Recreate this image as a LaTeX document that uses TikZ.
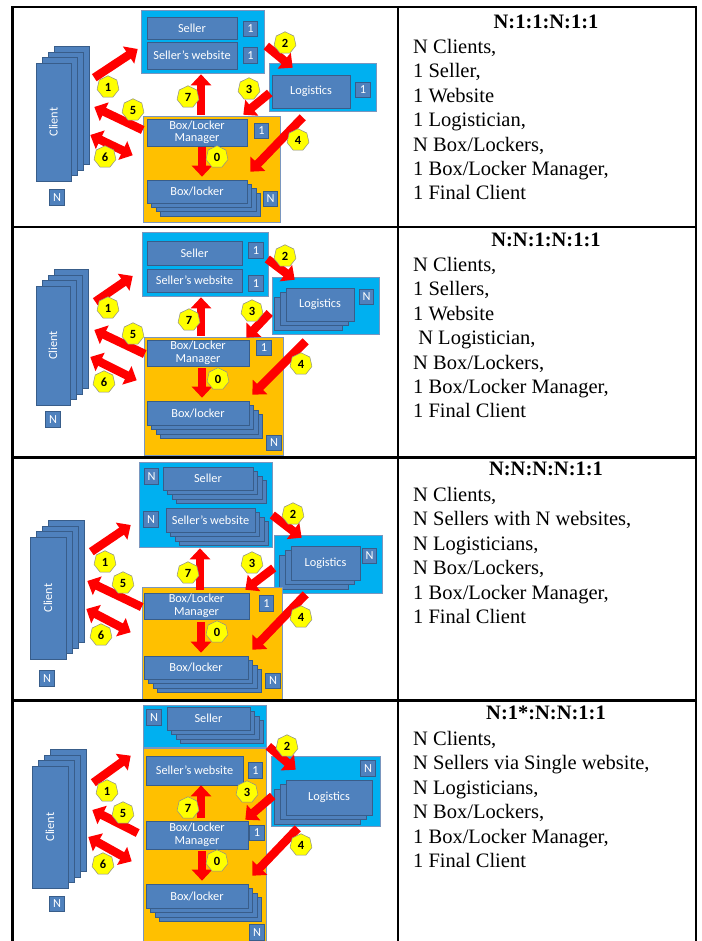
\documentclass[tikz,border=0pt]{standalone}
\usepackage{fontspec}
\usepackage{graphicx}
\setmainfont{Liberation Serif}
\newfontfamily\boxfont{Carlito}
\usetikzlibrary{arrows.meta,shapes.geometric,shadows}
\definecolor{LkCyan}{HTML}{00B0F0}
\definecolor{LkOrange}{HTML}{FFC000}
\definecolor{LkBlue}{HTML}{4F81BD}
\definecolor{LkEdge}{HTML}{385D8A}
\definecolor{LkFrame}{HTML}{7A96BE}
\definecolor{LkRed}{HTML}{FF0000}
\definecolor{LkYellow}{HTML}{FFFF00}
\definecolor{LkNumEdge}{HTML}{8C8C8C}
\tikzset{
  grpSeller/.style={
    draw=LkFrame,
    fill=LkCyan,
    line width=0.6pt,
    inner sep=0pt
  },
  grpLocker/.style={
    draw=LkFrame,
    fill=LkOrange,
    line width=0.6pt,
    inner sep=0pt
  },
  blk/.style={
    draw=LkEdge,
    fill=LkBlue,
    line width=0.6pt,
    text=white,
    align=center,
    inner sep=0pt,
    font=\boxfont\fontsize{12.3pt}{12.5pt}\selectfont
  },
  tag/.style={
    blk,
    minimum width=14.5pt,
    minimum height=15.5pt
  },
  stackR/.style={
    copy shadow={shadow xshift=13.2pt, shadow yshift=-13.2pt, fill=LkBlue, draw=LkEdge},
    copy shadow={shadow xshift=8.8pt, shadow yshift=-8.8pt, fill=LkBlue, draw=LkEdge},
    copy shadow={shadow xshift=4.4pt, shadow yshift=-4.4pt, fill=LkBlue, draw=LkEdge}
  },
  stackU/.style={
    copy shadow={shadow xshift=18pt, shadow yshift=16.5pt, fill=LkBlue, draw=LkEdge},
    copy shadow={shadow xshift=12pt, shadow yshift=11pt, fill=LkBlue, draw=LkEdge},
    copy shadow={shadow xshift=6pt, shadow yshift=5.5pt, fill=LkBlue, draw=LkEdge}
  },
  stackL/.style={
    copy shadow={shadow xshift=-12pt, shadow yshift=-9pt, fill=LkBlue, draw=LkEdge},
    copy shadow={shadow xshift=-6pt, shadow yshift=-4.5pt, fill=LkBlue, draw=LkEdge}
  },
  num/.style={
    regular polygon,
    regular polygon sides=7,
    fill=LkYellow,
    draw=LkNumEdge,
    line width=0.5pt,
    minimum size=22.5pt,
    inner sep=0pt,
    font=\boxfont\bfseries\fontsize{12.5pt}{12.5pt}\selectfont
  },
  flow/.style={
    draw=LkRed,
    line width=8.5pt,
    -{Triangle[length=11pt,width=20pt]}
  },
  flowBoth/.style={
    draw=LkRed,
    line width=8.5pt,
    {Triangle[length=11pt,width=20pt]}-{Triangle[length=11pt,width=20pt]}
  },
  rule/.style={
    line width=2.2pt,
    black
  },
  rowTitle/.style={
    anchor=base,
    inner sep=0pt,
    font=\fontsize{20.5pt}{24.4pt}\selectfont\bfseries
  },
  rowText/.style={
    anchor=north west,
    align=left,
    inner sep=0pt,
    font=\fontsize{20.5pt}{24.4pt}\selectfont
  }
}

\begin{document}
\begin{tikzpicture}[x=1pt,y=-1pt]
    \useasboundingbox (0,0) rectangle (701,941);

    % Panel 1: N:1:1:N:1:1
    \node (sg1) [grpSeller, minimum width=123pt, minimum height=63pt] at (202.5,41.5) {};
    \node (sel1) [blk, minimum width=90pt, minimum height=22pt] at (192,28) {Seller};
    \node (web1) [blk, minimum width=90pt, minimum height=27pt] at (192,55.5) {Seller’s website};
    \node (sel1n) [tag] at (250.5,29) {1};
    \node (web1n) [tag] at (250.5,55.5) {1};
    \node (lg1) [grpSeller, minimum width=107pt, minimum height=48pt] at (322.5,87) {};
    \node (log1) [blk, minimum width=78pt, minimum height=33pt] at (311,91.5) {Logistics};
    \node (log1n) [tag] at (363,90) {1};
    \node (ob1) [grpLocker, minimum width=137pt, minimum height=106pt] at (211.5,169) {};
    \node (mgr1) [blk, minimum width=100pt, minimum height=27pt] at (197,132.5) {Box/Locker\\Manager};
    \node (mgr1n) [tag] at (261.5,131) {1};
    \node (box1) [blk, stackR, minimum width=100pt, minimum height=23pt] at (197,191.5) {Box/locker};
    \node (box1n) [tag] at (270.5,199) {N};
    \node (cl1) [blk, stackU, minimum width=35pt, minimum height=118pt] at (53.5,122) {\rotatebox{90}{Client}};
    \node (cl1n) [tag] at (57,197.5) {N};

    \draw [flow] ([shift={(23,15)}]cl1.north east) -- ([shift={(-3,7.5)}]sg1.west);
    \draw [flow] ([shift={(2,4.5)}]sg1.east) -- ([shift={(24,5)}]lg1.north west);
    \draw [flow] ([shift={(1,6)}]lg1.west) -- ([shift={(-4,-4)}]mgr1.north east);
    \draw [flow] ([shift={(34,6)}]lg1.south west) -- ([shift={(3,-8)}]box1.north east);
    \draw [flow] ([shift={(-4,-2.5)}]mgr1.west) -- ([shift={(23,-15)}]cl1.east);
    \draw [flowBoth] ([shift={(19,13)}]cl1.east) -- ([shift={(-14,9)}]mgr1.south west);
    \draw [flow] ([shift={(4,-4)}]mgr1.north) -- ([shift={(9,5)}]web1.south);
    \draw [flow] ([shift={(5,1)}]mgr1.south) -- ([shift={(5,-3)}]box1.north);

    \node (p1s1) [num] at (108,87) {1};
    \node (p1s2) [num] at (285,43) {2};
    \node (p1s3) [num] at (249,89) {3};
    \node (p1s4) [num] at (298,140) {4};
    \node (p1s5) [num] at (133,110) {5};
    \node (p1s6) [num] at (105,157) {6};
    \node (p1s7) [num] at (188,97) {7};
    \node (p1s0) [num] at (217,157) {0};

    % Panel 2: N:N:1:N:1:1
    \node (sg2) [grpSeller, minimum width=126pt, minimum height=64pt] at (205,264) {};
    \node (sel2) [blk, minimum width=95pt, minimum height=24pt] at (194.5,253) {Seller};
    \node (web2) [blk, minimum width=95pt, minimum height=23pt] at (194.5,280.5) {Seller’s website};
    \node (sel2n) [tag] at (256,250.5) {1};
    \node (web2n) [tag] at (256,283.5) {1};
    \node (lg2) [grpSeller, minimum width=107pt, minimum height=57pt] at (325.5,305.5) {};
    \node (log2) [blk, stackL, minimum width=68pt, minimum height=33pt] at (320,304.5) {Logistics};
    \node (log2n) [tag] at (366.5,297) {N};
    \node (ob2) [grpLocker, minimum width=139pt, minimum height=118pt] at (213.5,396) {};
    \node (mgr2) [blk, minimum width=102pt, minimum height=26pt] at (198,353) {Box/Locker\\Manager};
    \node (mgr2n) [tag] at (264,348) {1};
    \node (box2) [blk, stackR, minimum width=102pt, minimum height=24pt] at (198,413) {Box/locker};
    \node (box2n) [tag] at (274,443) {N};
    \node (cl2) [blk, stackU, minimum width=34pt, minimum height=119pt] at (53,345.5) {\rotatebox{90}{Client}};
    \node (cl2n) [tag] at (53,419.5) {N};

    \draw [flow] ([shift={(25,16)}]cl2.north east) -- ([shift={(-9,12)}]sg2.west);
    \draw [flow] ([shift={(-1,-5)}]sg2.east) -- ([shift={(23,3)}]lg2.north west);
    \draw [flow] ([shift={(-2,7.5)}]lg2.west) -- ([shift={(-3,-2)}]mgr2.north east);
    \draw [flow] ([shift={(34,7)}]lg2.south west) -- ([shift={(3,-6)}]box2.north east);
    \draw [flow] ([shift={(-2,1)}]mgr2.west) -- ([shift={(24,-15.5)}]cl2.east);
    \draw [flowBoth] ([shift={(20,11.5)}]cl2.east) -- ([shift={(-10,14)}]mgr2.south west);
    \draw [flow] ([shift={(3,-4)}]mgr2.north) -- ([shift={(6.5,5)}]web2.south);
    \draw [flow] ([shift={(4,2)}]mgr2.south) -- ([shift={(4,-3)}]box2.north);

    \node (p2s1) [num] at (108,308) {1};
    \node (p2s2) [num] at (285,256) {2};
    \node (p2s3) [num] at (252,311) {3};
    \node (p2s4) [num] at (301,364) {4};
    \node (p2s5) [num] at (133,334) {5};
    \node (p2s6) [num] at (104,382) {6};
    \node (p2s7) [num] at (189,320) {7};
    \node (p2s0) [num] at (218,379) {0};

    % Panel 3: N:N:N:N:1:1
    \node (sg3) [grpSeller, minimum width=133pt, minimum height=85pt] at (205.5,504.5) {};
    \node (sel3) [blk, stackR, minimum width=90pt, minimum height=23pt] at (208,478.5) {Seller};
    \node (sel3n) [tag] at (151.5,476.5) {N};
    \node (web3) [blk, stackR, minimum width=89pt, minimum height=24pt] at (210.5,520) {Seller’s website};
    \node (web3n) [tag] at (151,519.5) {N};
    \node (lg3) [grpSeller, minimum width=108pt, minimum height=58pt] at (328,564) {};
    \node (log3) [blk, stackL, minimum width=69pt, minimum height=34pt] at (325.5,563) {Logistics};
    \node (log3n) [tag] at (369.5,556) {N};
    \node (ob3) [grpLocker, minimum width=140pt, minimum height=112pt] at (212,643) {};
    \node (mgr3) [blk, minimum width=105pt, minimum height=26pt] at (196.5,606) {Box/Locker\\Manager};
    \node (mgr3n) [tag] at (266.5,603.5) {1};
    \node (box3) [blk, stackR, minimum width=104pt, minimum height=23pt] at (196,667.5) {Box/locker};
    \node (box3n) [tag] at (273,681) {N};
    \node (cl3) [blk, stackU, minimum width=36pt, minimum height=122pt] at (48,598) {\rotatebox{90}{Client}};
    \node (cl3n) [tag] at (47,678.5) {N};

    \draw [flow] ([shift={(25,15)}]cl3.north east) -- ([shift={(-8,20.5)}]sg3.west);
    \draw [flow] ([shift={(0,10.5)}]sg3.east) -- ([shift={(28,3)}]lg3.north west);
    \draw [flow] ([shift={(0,4)}]lg3.west) -- ([shift={(-4,-3)}]mgr3.north east);
    \draw [flow] ([shift={(32,1)}]lg3.south west) -- ([shift={(4,-6)}]box3.north east);
    \draw [flow] ([shift={(-2,1)}]mgr3.west) -- ([shift={(21,-17)}]cl3.east);
    \draw [flowBoth] ([shift={(20,11)}]cl3.east) -- ([shift={(-13,13)}]mgr3.south west);
    \draw [flow] ([shift={(3.5,-3)}]mgr3.north) -- ([shift={(-5.5,1)}]sg3.south);
    \draw [flow] ([shift={(4.5,3)}]mgr3.south) -- ([shift={(5,-3)}]box3.north);

    \node (p3s1) [num] at (105,562) {1};
    \node (p3s2) [num] at (293,514) {2};
    \node (p3s3) [num] at (252,563) {3};
    \node (p3s4) [num] at (301,617) {4};
    \node (p3s5) [num] at (123,583) {5};
    \node (p3s6) [num] at (101,635) {6};
    \node (p3s7) [num] at (188,573) {7};
    \node (p3s0) [num] at (217,632) {0};

    % Panel 4: N:1*:N:N:1:1
    \node (sg4) [grpSeller, minimum width=123pt, minimum height=42pt] at (204.5,726) {};
    \node (sel4) [blk, stackR, minimum width=83pt, minimum height=23pt] at (208.5,718.5) {Seller};
    \node (sel4n) [tag] at (154,717.5) {N};
    \node (ob4) [grpLocker, minimum width=123pt, minimum height=197pt] at (204.5,846.5) {};
    \node (web4) [blk, minimum width=97pt, minimum height=29pt] at (194.5,770.5) {Seller’s website};
    \node (web4n) [tag] at (255.5,770.5) {1};
    \node (lg4) [grpSeller, minimum width=109pt, minimum height=70pt] at (325.5,791) {};
    \node (log4n) [tag] at (368,768.5) {N};
    \node (log4) [blk, stackL, minimum width=86pt, minimum height=35pt] at (329,797.5) {Logistics};
    \node (mgr4) [blk, minimum width=102pt, minimum height=28pt] at (197,835) {Box/Locker\\Manager};
    \node (mgr4n) [tag] at (257,833) {1};
    \node (box4) [blk, stackR, minimum width=102pt, minimum height=24pt] at (197,896) {Box/locker};
    \node (box4n) [tag] at (257,932.5) {N};
    \node (cl4) [blk, stackU, minimum width=36pt, minimum height=122pt] at (50,827) {\rotatebox{90}{Client}};
    \node (cl4n) [tag] at (57,904) {N};

    \draw [flow] ([shift={(25,17)}]cl4.north east) -- ([shift={(-12,8)}]ob4.north west);
    \draw [flow] ([shift={(2,-1)}]sg4.south east) -- ([shift={(25,14)}]lg4.north west);
    \draw [flow] ([shift={(2,5)}]lg4.west) -- ([shift={(-3,-1)}]mgr4.north east);
    \draw [flow] ([shift={(27,2)}]lg4.south west) -- ([shift={(4,-8)}]box4.north east);
    \draw [flow] ([shift={(-8,-2)}]mgr4.west) -- ([shift={(24,-17)}]cl4.east);
    \draw [flowBoth] ([shift={(20,10)}]cl4.east) -- ([shift={(-14,12)}]mgr4.south west);
    \draw [flow] ([shift={(4,-3)}]mgr4.north) -- ([shift={(6.5,0)}]web4.south);
    \draw [flow] ([shift={(5,2)}]mgr4.south) -- ([shift={(5,-3)}]box4.north);

    \node (p4s1) [num] at (107,791) {1};
    \node (p4s2) [num] at (287,746) {2};
    \node (p4s3) [num] at (247,792) {3};
    \node (p4s4) [num] at (301,845) {4};
    \node (p4s5) [num] at (123,813) {5};
    \node (p4s6) [num] at (103,864) {6};
    \node (p4s7) [num] at (188,808) {7};
    \node (p4s0) [num] at (217,861) {0};

    % Right column texts
    \node (h1) [rowTitle] at (546,29) {N:1:1:N:1:1};
    \node (t1) [rowText] at (413,39) {N Clients,\\1 Seller,\\1 Website\\1 Logistician,\\N Box/Lockers,\\1 Box/Locker Manager,\\1 Final Client};
    \node (h2) [rowTitle] at (546,247) {N:N:1:N:1:1};
    \node (t2) [rowText] at (413,257) {N Clients,\\1 Sellers,\\1 Website\\\hspace{0.25em}N Logistician,\\N Box/Lockers,\\1 Box/Locker Manager,\\1 Final Client};
    \node (h3) [rowTitle] at (546,475) {N:N:N:N:1:1};
    \node (t3) [rowText] at (413,487) {N Clients,\\N Sellers with N websites,\\N Logisticians,\\N Box/Lockers,\\1 Box/Locker Manager,\\1 Final Client};
    \node (h4) [rowTitle] at (546,719) {N:1*:N:N:1:1};
    \node (t4) [rowText] at (413,731) {N Clients,\\N Sellers via Single website,\\N Logisticians,\\N Box/Lockers,\\1 Box/Locker Manager,\\1 Final Client};

    % Table frame
    \draw [rule] (12.5,941) -- (12.5,7) -- (696,7) -- (696,941);
    \draw [rule] (398,7) -- (398,941);
    \draw [rule] (12.5,227) -- (696,227);
    \draw [rule] (12.5,457.5) -- (696,457.5);
    \draw [rule] (12.5,700.5) -- (696,700.5);
\end{tikzpicture}
\end{document}
